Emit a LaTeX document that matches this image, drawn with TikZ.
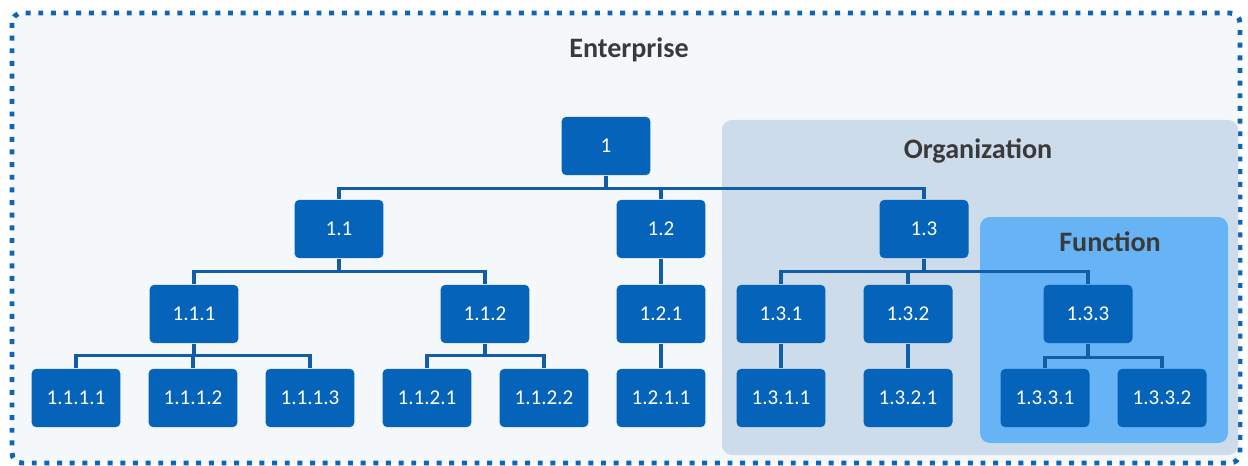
\documentclass[tikz,border=0pt]{standalone}
\usepackage{fontspec}
\setmainfont{Carlito}
\definecolor{boxblue}{HTML}{0563B9}
\definecolor{linkblue}{HTML}{115DA8}
\definecolor{paleback}{HTML}{F4F8FB}
\definecolor{orgfill}{HTML}{CCDCEB}
\definecolor{funcfill}{HTML}{66B3F6}
\definecolor{labelgray}{HTML}{3A3A3A}
\definecolor{dotblue}{HTML}{0F64B4}
\tikzset{
  unit/.style={draw=none, fill=boxblue, rounded corners=0.1cm, minimum width=1.78cm,
    minimum height=1.17cm, inner sep=0pt, text=white, font=\fontsize{12}{14}\selectfont},
  link/.style={draw=linkblue, line width=2pt},
  title/.style={text=labelgray, font=\fontsize{16}{19}\selectfont\bfseries},
}
\begin{document}
\begin{tikzpicture}[x=0.02cm, y=-0.02cm]
\useasboundingbox (0,0) rectangle (1248,466);
% enterprise frame
\draw[dotblue, fill=paleback, line width=2.8pt, dash pattern=on 2.8pt off 4.4pt, rounded corners=0.2cm]
  (12,13) rectangle (1240,463);
% nested scopes
\fill[orgfill, rounded corners=0.2cm] (722,120) rectangle (1238,455);
\fill[funcfill, rounded corners=0.2cm] (980,217) rectangle (1228,443);
\node[title] (ent) at (629,50) {Enterprise};
\node[title] (org) at (978,151) {Organization};
\node[title] (fun) at (1110,242) {Function};
% level 0
\node[unit] (n1) at (606,146) {1};
% level 1
\node[unit] (n11) at (339,229) {1.1};
\node[unit] (n12) at (661,229) {1.2};
\node[unit] (n13) at (924,229) {1.3};
% level 2
\node[unit] (n111) at (194,314) {1.1.1};
\node[unit] (n112) at (485,314) {1.1.2};
\node[unit] (n121) at (661,314) {1.2.1};
\node[unit] (n131) at (781,314) {1.3.1};
\node[unit] (n132) at (908,314) {1.3.2};
\node[unit] (n133) at (1088,314) {1.3.3};
% level 3
\node[unit] (n1111) at (76,398) {1.1.1.1};
\node[unit] (n1112) at (193,398) {1.1.1.2};
\node[unit] (n1113) at (310,398) {1.1.1.3};
\node[unit] (n1121) at (427,398) {1.1.2.1};
\node[unit] (n1122) at (544,398) {1.1.2.2};
\node[unit] (n1211) at (661,398) {1.2.1.1};
\node[unit] (n1311) at (781,398) {1.3.1.1};
\node[unit] (n1321) at (908,398) {1.3.2.1};
\node[unit] (n1331) at (1045,398) {1.3.3.1};
\node[unit] (n1332) at (1162,398) {1.3.3.2};
% connectors
\foreach \c in {n11,n12,n13} \draw[link] (n1.south) -- ++(0,13) -| (\c.north);
\foreach \c in {n111,n112} \draw[link] (n11.south) -- ++(0,13) -| (\c.north);
\draw[link] (n12.south) -- (n121.north);
\foreach \c in {n131,n132,n133} \draw[link] (n13.south) -- ++(0,13) -| (\c.north);
\foreach \c in {n1111,n1112,n1113} \draw[link] (n111.south) -- ++(0,12) -| (\c.north);
\foreach \c in {n1121,n1122} \draw[link] (n112.south) -- ++(0,12) -| (\c.north);
\draw[link] (n121.south) -- (n1211.north);
\draw[link] (n131.south) -- (n1311.north);
\draw[link] (n132.south) -- (n1321.north);
\foreach \c in {n1331,n1332} \draw[link] (n133.south) -- ++(0,14) -| (\c.north);
\end{tikzpicture}
\end{document}
